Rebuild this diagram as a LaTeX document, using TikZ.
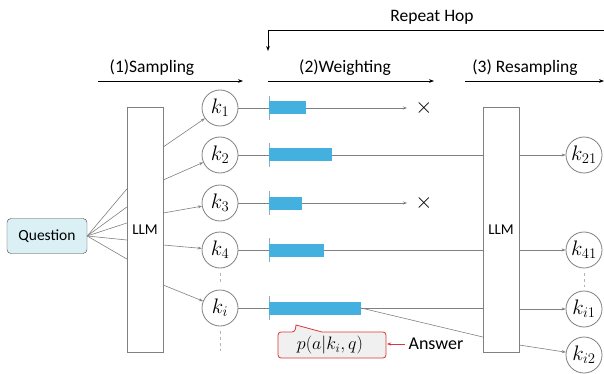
\RequirePackage{fix-cm}
\documentclass[tikz,border=0pt]{standalone}
\usepackage{fontspec}
\setmainfont{Carlito}
\usepackage{amsmath}
\usetikzlibrary{arrows.meta,positioning,calc}
\definecolor{bar}{HTML}{43B0E0}
\definecolor{qfill}{HTML}{DAF0F5}
\definecolor{line}{HTML}{808080}
\definecolor{ansred}{HTML}{D9383A}
\definecolor{cfill}{HTML}{F0F0F0}

\tikzset{
  stage/.style={font=\fontsize{17.5}{20}\selectfont},
  phase/.style={thick,-{Stealth[length=5pt]}},
  llmbox/.style={draw=line,minimum width=36pt,inner sep=0pt,font=\fontsize{15}{17}\selectfont},
  knode/.style={circle,draw=line,thick,minimum size=36pt,inner sep=0pt,font=\fontsize{21}{23}\selectfont},
  conn/.style={line,semithick,-{Stealth[length=4pt]}},
  vdots/.style={line!60,thick,dashed}
}

\begin{document}
\begin{tikzpicture}[x=1pt,y=-1pt]
  \useasboundingbox (0,0) rectangle (604,374);

  % Stage headers
  \node[stage] (repeat) at (432,17) {Repeat Hop};
  \coordinate (hopR) at (604,30);
  \coordinate (hopL) at (268,30);
  \coordinate (hopT) at (268,51);
  \draw[thick,-{Stealth[length=5pt]}] (hopR) -- (hopL) -- (hopT);

  \node[stage] (samp) at (152,68) {(1)Sampling};
  \node[stage] (weig) at (345,68) {(2)Weighting};
  \node[stage] (resa) at (525,68) {(3) Resampling};
  \draw[phase] (98,81) -- (243,81);
  \draw[phase] (268,81) -- (434,81);
  \draw[phase] (465,81) -- (604,81);

  % Question and the two LLMs
  \node[draw=black!75,fill=qfill,rounded corners=4pt,minimum width=80pt,minimum height=35pt,
        font=\fontsize{15.5}{17}\selectfont] (q) at (47,236) {Question};
  \node[llmbox,minimum height=245pt] (llmA) at (145,229.5) {LLM};
  \node[llmbox,minimum height=245pt] (llmB) at (501,229.5) {LLM};

  \foreach \y in {189,207,223,240,259}
    \draw[line,semithick] (q.east) -- (llmA.west |- 0,\y);

  % Sampled knowledge
  \foreach \n/\lab/\y/\s/\w in {1/k_1/108/147/306, 2/k_2/155/180/332, 3/k_3/203/213/302,
                               4/k_4/250/245/324, i/k_i/308/285/361} {
    \node[knode] (k\n) at (220,\y) {$\lab$};
    \draw[conn] (llmA.east |- 0,\s) -- (k\n);
    \coordinate (t\n) at (269,\y);
    \draw[line,semithick] (k\n.east) -- (t\n);
    \draw[bar!70!black!60,thin] ($(t\n)+(0,-12)$) -- ($(t\n)+(0,12)$);
    \fill[bar] ($(t\n)+(0,-6.5)$) rectangle (\w,\y+6.5);
    \coordinate (e\n) at (\w,\y);
  }
  \draw[vdots] (220,273) -- (220,285);
  \draw[vdots] (220,331) -- (220,351);

  % Pruned paths
  \foreach \n in {1,3} {
    \coordinate (x\n) at (407,0 |- k\n);
    \draw[conn] (e\n) -- (x\n);
    \node[font=\fontsize{22}{24}\selectfont] (cross\n) at (424,0 |- k\n) {$\times$};
  }

  % Kept paths into second LLM
  \draw[line,semithick] (e2) -- (llmB.west |- e2);
  \draw[line,semithick] (e4) -- (llmB.west |- e4);
  \draw[line,semithick] (ei) -- (llmB.west |- ei);
  \draw[line,semithick] (ei) -- (llmB.west |- 0,337);

  % Resampled knowledge
  \node[knode] (k21) at (584,155) {$k_{21}$};
  \node[knode] (k41) at (584,250) {$k_{41}$};
  \node[knode] (ki1) at (584,309) {$k_{i1}$};
  \node[knode] (ki2) at (584,355) {$k_{i2}$};
  \draw[conn] (llmB.east |- k21) -- (k21);
  \draw[conn] (llmB.east |- k41) -- (k41);
  \draw[conn] (llmB.east |- ki1) -- (ki1);
  \draw[conn] (llmB.east |- 0,345) -- (ki2);
  \draw[vdots] (584,273) -- (584,287);

  % Answer probability callout
  \draw[ansred,fill=cfill,thick,rounded corners=3pt]
    (278,332) -- (295,332) [sharp corners] -- (296,325) -- (322,332) [rounded corners=3pt]
    -- (386,332) -- (386,358) -- (278,358) -- cycle;
  \node[font=\fontsize{18}{20}\selectfont] (prob) at (330,345) {$p(a|k_i,q)$};
  \node[font=\fontsize{18}{20}\selectfont] (ans) at (436,344) {Answer};
  \coordinate (cR) at (387,344);
  \draw[ansred,-{Stealth[length=4pt]}] (ans.west) -- (cR);
\end{tikzpicture}
\end{document}
